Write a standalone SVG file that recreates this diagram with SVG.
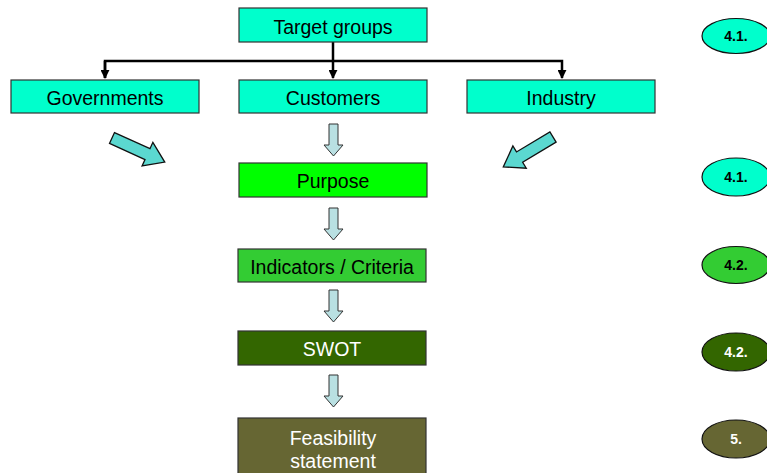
<svg xmlns="http://www.w3.org/2000/svg" width="767" height="473" viewBox="0 0 767 473">
<style>
.box{stroke:#333;stroke-width:1.2}
.lbl{font-family:"Liberation Sans",Arial,sans-serif;font-size:19.5px;text-anchor:middle}
.tag{font-family:"Liberation Sans",Arial,sans-serif;font-size:14px;font-weight:bold;text-anchor:middle}
.ell{stroke:#111;stroke-width:1.2}
.line{stroke:#000;stroke-width:2.5;fill:none}
.blk{fill:#B9E0E2;stroke:#333;stroke-width:1}
.diag{fill:#5BD8D0;stroke:#111;stroke-width:1.3}
</style>
<defs>
<marker id="ah" viewBox="0 0 10 10" refX="9" refY="5" markerWidth="3.6" markerHeight="3.6" orient="auto" markerUnits="strokeWidth">
<path d="M0,0 L10,5 L0,10 z" fill="#000"/>
</marker>
<path id="down" d="M329,0 H338 V21 H343 L333.5,32 L324,21 H329 Z"/>
<path id="dg" d="M0,-6 H39 V-13 L58,0 L39,13 V6 H0 Z"/>
</defs>
<g id="connectors">
<path class="line" d="M333,42 V78" marker-end="url(#ah)"/>
<path class="line" d="M105,78 V61 H562 V78" marker-end="url(#ah)"/>
<path class="line" d="M105,61 V78" marker-end="url(#ah)"/>
<use href="#down" class="blk" transform="translate(0,124)"/>
<use href="#down" class="blk" transform="translate(0,208)"/>
<use href="#down" class="blk" transform="translate(0,290)"/>
<use href="#down" class="blk" transform="translate(0,375)"/>
<use href="#dg" class="diag" transform="translate(112,138) rotate(24.5)"/>
<use href="#dg" class="diag" transform="translate(553,137) rotate(149)"/>
</g>
<g id="target-groups"><rect class="box" x="239" y="8" width="188" height="34" fill="#00FFCC"/><text class="lbl" x="333" y="33.5">Target groups</text></g>
<g id="governments"><rect class="box" x="11" y="80" width="188" height="33" fill="#00FFCC"/><text class="lbl" x="105" y="105">Governments</text></g>
<g id="customers"><rect class="box" x="239" y="80" width="188" height="33" fill="#00FFCC"/><text class="lbl" x="333" y="105">Customers</text></g>
<g id="industry"><rect class="box" x="467" y="80" width="188" height="33" fill="#00FFCC"/><text class="lbl" x="561" y="105">Industry</text></g>
<g id="purpose"><rect class="box" x="239" y="163" width="188" height="34" fill="#00FF00"/><text class="lbl" x="333" y="188">Purpose</text></g>
<g id="indicators"><rect class="box" x="238" y="249" width="188" height="33" fill="#33CC33"/><text class="lbl" x="332" y="274">Indicators / Criteria</text></g>
<g id="swot"><rect class="box" x="238" y="331" width="188" height="34" fill="#336600"/><text class="lbl" x="332" y="356" fill="#fff">SWOT</text></g>
<g id="feasibility"><rect class="box" x="238" y="418" width="188" height="60" fill="#666633"/><text class="lbl" x="333" y="444.5" fill="#fff">Feasibility</text><text class="lbl" x="333" y="467.5" fill="#fff">statement</text></g>
<g id="tag1"><ellipse class="ell" cx="736" cy="36" rx="34" ry="17.5" fill="#00FFCC"/><text class="tag" x="736" y="41">4.1.</text></g>
<g id="tag2"><ellipse class="ell" cx="736" cy="177" rx="34" ry="19" fill="#00FFCC"/><text class="tag" x="736" y="182">4.1.</text></g>
<g id="tag3"><ellipse class="ell" cx="736" cy="265" rx="34" ry="18.5" fill="#33CC33"/><text class="tag" x="736" y="270">4.2.</text></g>
<g id="tag4"><ellipse class="ell" cx="736" cy="352" rx="34" ry="19" fill="#336600"/><text class="tag" x="736" y="357" fill="#fff">4.2.</text></g>
<g id="tag5"><ellipse class="ell" cx="736" cy="439" rx="34" ry="19" fill="#666633"/><text class="tag" x="736" y="444" fill="#fff">5.</text></g>
</svg>
